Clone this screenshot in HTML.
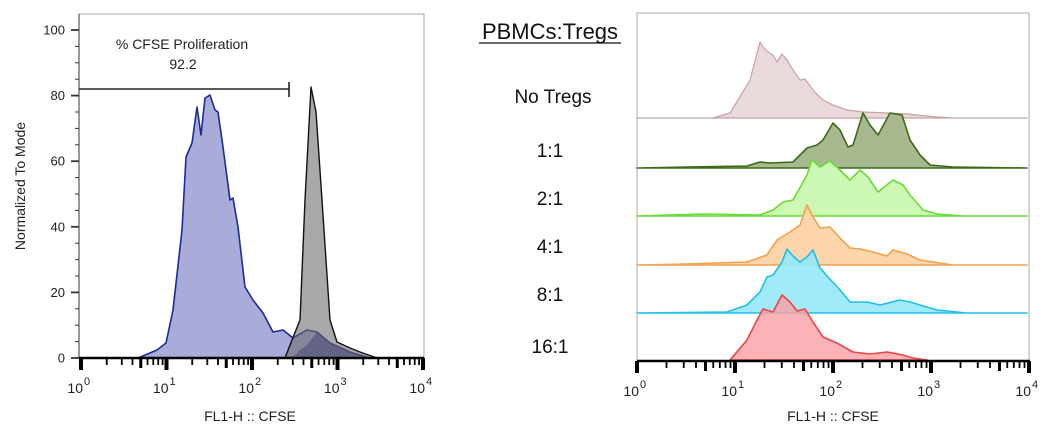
<!DOCTYPE html>
<html><head><meta charset="utf-8"><style>
html,body{margin:0;padding:0;background:#fff;width:1050px;height:433px;overflow:hidden}
svg text{font-family:"Liberation Sans",sans-serif}
</style></head><body>
<svg id="s" width="1050" height="433" viewBox="0 0 1050 433" xmlns="http://www.w3.org/2000/svg">
<rect x="79" y="14" width="345" height="344" fill="none" stroke="#aaa" stroke-width="1"/>
<path d="M138,358 L157,350 L166,343 L173,310 L182,230 L186,157 L192,143 L197,107 L201,135 L205,98 L210,95 L215,110 L218,112 L223,147 L230,200 L233,198 L238,227 L245,287 L253,300 L263,313 L273,332 L283,330 L293,338 L307,330 L317,332 L330,343 L350,352 L370,358 Z" fill="#a9abd9" stroke="#1c2a9a" stroke-width="1.6" stroke-linejoin="round"/>
<path d="M285,358 L292,340 L300,320 L305,200 L311,87 L316,112 L322,200 L330,320 L337,342 L350,348 L360,352 L377,358 Z" fill="rgba(110,110,110,0.6)" stroke="#111" stroke-width="1.4" stroke-linejoin="round"/>
<path d="M292,358 L300,350 L307,345 L317,332 L330,343 L350,352 L370,358 Z" fill="rgba(60,60,110,0.45)"/>
<line x1="79" y1="89" x2="289" y2="89" stroke="#222" stroke-width="1.6"/>
<line x1="289" y1="82" x2="289" y2="97" stroke="#222" stroke-width="1.6"/>
<text x="182" y="49" font-size="14" text-anchor="middle" fill="#222">% CFSE Proliferation</text>
<text x="183" y="69" font-size="14" text-anchor="middle" fill="#222">92.2</text>
<text transform="translate(25,186) rotate(-90)" font-size="14" text-anchor="middle" fill="#222">Normalized To Mode</text>
<text x="250" y="421" font-size="14" text-anchor="middle" fill="#222">FL1-H :: CFSE</text>
<g id="lt"></g>
<text x="550" y="39" font-size="22" text-anchor="middle" fill="#111">PBMCs:Tregs</text>
<line x1="479" y1="43" x2="621" y2="43" stroke="#111" stroke-width="1.3"/>
<g font-size="19" text-anchor="middle" fill="#111">
<text x="553" y="103">No Tregs</text>
<text x="550" y="157">1:1</text>
<text x="550" y="205">2:1</text>
<text x="550" y="253">4:1</text>
<text x="550" y="301">8:1</text>
<text x="550" y="353">16:1</text>
</g>
<rect x="637" y="13" width="392" height="348" fill="none" stroke="#aaa" stroke-width="1"/>
<g stroke-linejoin="round">
<path d="M637,118 L713,118 L730,113 L738,100 L750,80 L760,42 L763,47 L768,52 L773,55 L777,62 L782,54 L787,60 L793,70 L800,80 L805,79 L813,90 L823,100 L833,105 L847,110 L863,112 L887,113 L907,114 L937,117 L953,118 L1027,118 Z" fill="#ead9d9" stroke="#c9a2a2" stroke-width="1.2"/>
<path d="M637,168 L687,167 L747,166 L760,162 L770,163 L793,162 L807,148 L817,145 L823,140 L833,123 L840,130 L848,147 L853,145 L863,113 L870,125 L878,135 L890,113 L902,115 L910,140 L920,155 L930,165 L953,167 L1027,168 Z" fill="#a9b98f" stroke="#3b6b18" stroke-width="1.6"/>
<path d="M637,216 L703,214 L760,215 L773,210 L783,202 L793,200 L807,175 L812,160 L820,167 L830,161 L840,170 L850,180 L860,170 L868,177 L878,192 L893,180 L903,185 L910,195 L923,210 L937,214 L963,216 L1027,216 Z" fill="#cdf8b3" stroke="#66dd33" stroke-width="1.6"/>
<path d="M637,265 L687,264 L747,262 L767,255 L777,240 L790,232 L800,225 L807,205 L812,215 L820,228 L830,227 L840,238 L850,248 L860,249 L873,252 L887,256 L893,250 L907,254 L920,260 L953,265 L1027,265 Z" fill="#fdd5aa" stroke="#f5a04a" stroke-width="1.6"/>
<path d="M637,313 L727,312 L747,305 L760,292 L767,277 L773,275 L782,262 L787,249 L793,256 L800,262 L807,257 L813,250 L820,268 L828,277 L840,290 L850,302 L867,302 L880,305 L900,300 L910,302 L920,305 L937,310 L967,313 L1027,313 Z" fill="rgba(150,232,250,0.9)" stroke="#1ec0ea" stroke-width="1.6"/>
<path d="M730,360 L747,340 L757,320 L763,309 L773,312 L782,295 L790,302 L797,311 L805,309 L813,322 L823,337 L837,343 L853,352 L870,354 L887,352 L903,355 L913,358 L927,360 Z" fill="rgba(250,160,165,0.8)" stroke="#ee4444" stroke-width="1.6"/>
</g>
<text x="833" y="421" font-size="14" text-anchor="middle" fill="#222">FL1-H :: CFSE</text>
<g id="rt"></g>
</svg>
<script>
var NS="http://www.w3.org/2000/svg";
function el(g,t,a,txt){var e=document.createElementNS(NS,t);for(var k in a)e.setAttribute(k,a[k]);if(txt!==undefined)e.textContent=txt;g.appendChild(e);return e;}
function axis(gid,x0,dec,y,left){
 var g=document.getElementById(gid);
 el(g,"line",{x1:left,y1:y,x2:x0+4*dec+1,y2:y,stroke:"#000","stroke-width":2.5});
 for(var d=0;d<=4;d++){
  var x=x0+d*dec;
  el(g,"rect",{x:x-2,y:y,width:4,height:12,fill:"#000"});
  el(g,"text",{x:x+2,y:y+35,"font-size":14,"text-anchor":"end",fill:"#222"},"10");
  el(g,"text",{x:x+3,y:y+27,"font-size":11,fill:"#222"},String(d));
  if(d<4)for(var m=2;m<10;m++){var xx=x+dec*Math.log10(m);
   el(g,"line",{x1:xx,y1:y,x2:xx,y2:y+(m==5?10:7),stroke:"#000","stroke-width":m==5?3:1.8});}
 }
}
axis("lt",81,85.5,358,79);
axis("rt",637,98,361,637);
var g=document.getElementById("lt");
el(g,"line",{x1:79,y1:14,x2:79,y2:358,stroke:"#333","stroke-width":1});
for(var p=0;p<=100;p+=5){var y=358-3.28*p;
 el(g,"line",{x1:p%20==0?71:75,y1:y,x2:79,y2:y,stroke:"#333","stroke-width":p%20==0?1.8:1});
 if(p%20==0)el(g,"text",{x:65,y:y+4.5,"font-size":13,"text-anchor":"end",fill:"#222"},String(p));}
</script>
</body></html>
